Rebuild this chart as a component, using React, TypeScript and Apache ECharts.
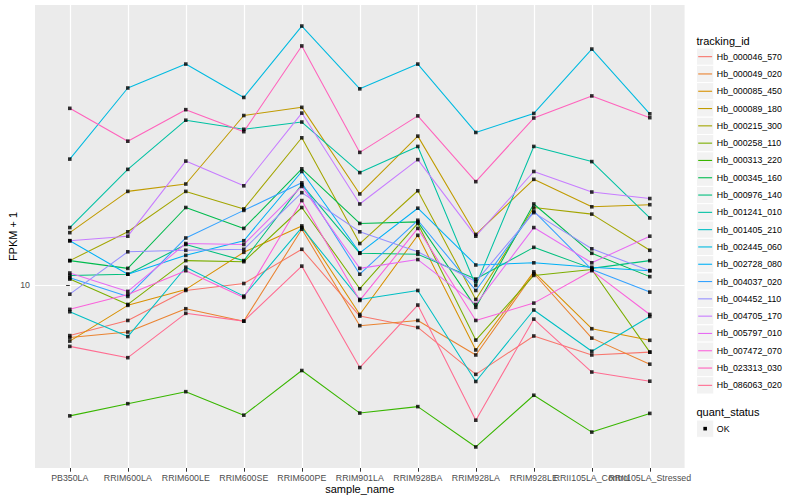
import React, { useEffect, useRef } from 'react';
import * as echarts from 'echarts';

const sampleNames = ['PB350LA', 'RRIM600LA', 'RRIM600LE', 'RRIM600SE', 'RRIM600PE', 'RRIM901LA', 'RRIM928BA', 'RRIM928LA', 'RRIM928LE', 'RRII105LA_Control', 'RRII105LA_Stressed'];

const trackingIds = ['Hb_000046_570', 'Hb_000049_020', 'Hb_000085_450', 'Hb_000089_180', 'Hb_000215_300', 'Hb_000258_110', 'Hb_000313_220', 'Hb_000345_160', 'Hb_000976_140', 'Hb_001241_010', 'Hb_001405_210', 'Hb_002445_060', 'Hb_002728_080', 'Hb_004037_020', 'Hb_004452_110', 'Hb_004705_170', 'Hb_005797_010', 'Hb_007472_070', 'Hb_023313_030', 'Hb_086063_020'];

const lineColors = ['#F8766D', '#EA8331', '#D89000', '#C09B00', '#A3A500', '#7CAE00', '#39B600', '#00BB4E', '#00BF7D', '#00C1A3', '#00BFC4', '#00BAE0', '#00B0F6', '#35A2FF', '#9590FF', '#C77CFF', '#E76BF3', '#FA62DB', '#FF62BC', '#FF6C91'];

const yTickValues = [10];
const quantStatus = ['OK'];

// FPKM + 1 per sample (order of sampleNames)
const hb_000046_570 = [6.8, 7.64, 9.62, 10.15, 13.2, 7.9, 7.24, 5.05, 6.78, 5.86, 5.99];
const hb_000049_020 = [6.7, 6.99, 8.36, 7.6, 15.4, 7.34, 7.64, 5.86, 10.96, 6.67, 5.46];
const hb_000085_450 = [6.52, 8.58, 9.7, 12.9, 15.8, 8.0, 14.7, 6.09, 11.1, 7.17, 6.56];
const hb_000089_180 = [15.0, 20.6, 21.8, 36.9, 39.3, 20.2, 31.5, 14.8, 22.6, 18.3, 18.6];
const hb_000215_300 = [12.1, 15.1, 20.6, 18.0, 31.1, 13.8, 20.7, 8.98, 18.2, 17.3, 13.1];
const hb_000258_110 = [10.5, 8.64, 12.1, 12.0, 18.2, 9.75, 16.1, 6.57, 10.8, 11.3, 5.99];
const hb_000313_220 = [3.67, 4.03, 4.42, 3.69, 5.2, 3.75, 3.94, 2.89, 4.3, 3.24, 3.74];
const hb_000345_160 = [12.1, 11.4, 18.2, 15.5, 24.5, 16.1, 16.3, 8.45, 18.7, 12.8, 10.7];
const hb_000976_140 = [10.8, 10.9, 13.7, 12.1, 21.7, 12.8, 12.7, 10.5, 13.4, 11.4, 12.1];
const hb_001241_010 = [15.6, 24.4, 35.6, 33.2, 35.1, 23.8, 29.1, 10.0, 29.1, 25.9, 16.8];
const hb_001405_210 = [8.17, 6.75, 11.5, 9.21, 15.6, 8.98, 9.62, 4.78, 8.28, 6.03, 7.88];
const hb_002445_060 = [26.4, 45.6, 54.8, 42.4, 73.4, 45.3, 54.8, 32.4, 37.5, 61.5, 37.4];
const hb_002728_080 = [14.1, 10.9, 12.6, 14.1, 24.0, 12.85, 18.1, 11.7, 11.9, 11.5, 11.2];
const hb_004037_020 = [10.6, 9.19, 14.4, 17.8, 22.0, 10.9, 16.5, 9.62, 17.7, 11.3, 9.5];
const hb_004452_110 = [9.35, 12.95, 13.1, 13.2, 20.4, 15.1, 12.95, 10.3, 17.5, 13.25, 11.2];
const hb_004705_170 = [14.1, 14.6, 26.0, 21.5, 37.6, 18.7, 26.3, 14.6, 24.0, 20.5, 19.5];
const hb_005797_010 = [11.0, 9.55, 13.8, 13.7, 21.4, 11.4, 12.2, 8.64, 15.6, 11.9, 14.6];
const hb_007472_070 = [8.32, 9.33, 11.2, 9.12, 19.2, 8.91, 15.5, 7.64, 8.73, 11.2, 8.0];
const hb_023313_030 = [39.0, 30.3, 38.6, 32.6, 63.0, 27.8, 36.8, 22.2, 36.2, 42.9, 36.3];
const hb_086063_020 = [6.26, 5.74, 8.07, 7.6, 11.6, 5.32, 8.6, 3.55, 7.72, 5.14, 4.79];

const seriesValues = [
  hb_000046_570, hb_000049_020, hb_000085_450, hb_000089_180, hb_000215_300,
  hb_000258_110, hb_000313_220, hb_000345_160, hb_000976_140, hb_001241_010,
  hb_001405_210, hb_002445_060, hb_002728_080, hb_004037_020, hb_004452_110,
  hb_004705_170, hb_005797_010, hb_007472_070, hb_023313_030, hb_086063_020,
];

const FONT = '"Liberation Sans", Arial, Helvetica, sans-serif';

function buildOption() {
  const all = seriesValues.flat();
  const lo = Math.log10(Math.min(...all));
  const hi = Math.log10(Math.max(...all));
  const pad = (hi - lo) * 0.05;
  const yMin = Math.pow(10, lo - pad);
  const yMax = Math.pow(10, hi + pad);
  const xIdx = sampleNames.map((_, i) => i);
  const xMin = -0.6;
  const xMax = sampleNames.length - 1 + 0.6;
  // an empty label sits on the axis end so that every sample name is kept
  const xLabelValues = [...xIdx, xMax];

  const lineSeries = trackingIds.map((id, k) => ({
    type: 'line',
    name: id,
    data: seriesValues[k].map((v, i) => [i, v]),
    showSymbol: false,
    symbol: 'none',
    silent: true,
    z: 2,
    lineStyle: { color: lineColors[k], width: 1.05 },
    itemStyle: { color: lineColors[k] },
  }));

  const points: number[][] = [];
  seriesValues.forEach((vals) => vals.forEach((v, i) => points.push([i, v])));

  // legend drawn as graphic (ggplot style)
  const gx = 696.5;
  const keySize = 17.3;
  const keyTop = 48;
  const graphics: any[] = [];
  graphics.push({
    type: 'text', x: gx, y: 41,
    style: { text: 'tracking_id', fill: '#000', fontSize: 11, fontFamily: FONT, textVerticalAlign: 'middle', verticalAlign: 'middle' },
  });
  trackingIds.forEach((id, i) => {
    const y = keyTop + i * keySize;
    graphics.push({
      type: 'rect', shape: { x: gx, y, width: keySize, height: keySize },
      style: { fill: '#F2F2F2', stroke: '#FFFFFF', lineWidth: 1 },
    });
    graphics.push({
      type: 'line', shape: { x1: gx + 1.7, y1: y + keySize / 2, x2: gx + keySize - 1.7, y2: y + keySize / 2 },
      style: { stroke: lineColors[i], lineWidth: 1.1 },
    });
    graphics.push({
      type: 'text', x: gx + keySize + 3, y: y + keySize / 2,
      style: { text: id, fill: '#000', fontSize: 8.8, fontFamily: FONT, textVerticalAlign: 'middle', verticalAlign: 'middle' },
    });
  });
  const qTitleY = keyTop + trackingIds.length * keySize + 18;
  graphics.push({
    type: 'text', x: gx, y: qTitleY,
    style: { text: 'quant_status', fill: '#000', fontSize: 11, fontFamily: FONT, textVerticalAlign: 'middle', verticalAlign: 'middle' },
  });
  quantStatus.forEach((q, i) => {
    const y = qTitleY + 8 + i * keySize;
    graphics.push({
      type: 'rect', shape: { x: gx, y, width: keySize, height: keySize },
      style: { fill: '#F2F2F2', stroke: '#FFFFFF', lineWidth: 1 },
    });
    graphics.push({
      type: 'rect', shape: { x: gx + keySize / 2 - 1.8, y: y + keySize / 2 - 1.8, width: 3.6, height: 3.6 },
      style: { fill: '#000' },
    });
    graphics.push({
      type: 'text', x: gx + keySize + 3, y: y + keySize / 2,
      style: { text: q, fill: '#000', fontSize: 8.8, fontFamily: FONT, textVerticalAlign: 'middle', verticalAlign: 'middle' },
    });
  });

  return {
    animation: false,
    backgroundColor: '#FFFFFF',
    textStyle: { fontFamily: FONT },
    grid: {
      left: 35, right: 115.4, top: 5, bottom: 32,
      show: true, backgroundColor: '#EBEBEB', borderWidth: 0,
      containLabel: false,
      outerBoundsMode: 'none',
    },
    xAxis: {
      type: 'value',
      min: xMin,
      max: xMax,
      axisLine: { show: false },
      axisTick: { show: true, customValues: xIdx, length: 3.7, lineStyle: { color: '#333333', width: 1 } },
      axisLabel: {
        show: true, customValues: xLabelValues,
        formatter: (v: number) => (Number.isInteger(v) ? sampleNames[v] ?? '' : ''),
        color: '#4D4D4D', fontSize: 8.8, margin: 5.5,
        hideOverlap: false, showMaxLabel: false,
      },
      splitLine: { show: true, lineStyle: { color: '#FFFFFF', width: 1.2 } },
      minorSplitLine: { show: false },
      name: 'sample_name',
      nameLocation: 'middle',
      nameGap: 15,
      nameMoveOverlap: false,
      nameTextStyle: { color: '#000000', fontSize: 11 },
    },
    yAxis: {
      type: 'log',
      logBase: 10,
      min: yMin,
      max: yMax,
      axisLine: { show: false },
      axisTick: { show: true, customValues: yTickValues, length: 3.7, lineStyle: { color: '#333333', width: 1 } },
      axisLabel: {
        show: true, customValues: yTickValues,
        formatter: (v: number) => String(Math.round(v)),
        color: '#4D4D4D', fontSize: 8.8, margin: 5,
        hideOverlap: false,
      },
      splitLine: { show: true, lineStyle: { color: '#FFFFFF', width: 1.2 } },
      minorSplitLine: { show: false },
      name: 'FPKM + 1',
      nameLocation: 'middle',
      nameGap: 17,
      nameMoveOverlap: false,
      nameTextStyle: { color: '#000000', fontSize: 11 },
    },
    graphic: graphics,
    series: [
      ...lineSeries,
      {
        type: 'scatter',
        name: 'OK',
        data: points,
        symbol: 'rect',
        symbolSize: 3.6,
        silent: true,
        z: 3,
        itemStyle: { color: '#000000' },
      },
    ],
  };
}

export default function App() {
  const ref = useRef<HTMLDivElement>(null);
  useEffect(() => {
    if (!ref.current) return;
    const chart = echarts.init(ref.current, undefined, { renderer: 'svg' });
    chart.setOption(buildOption() as any);
    return () => chart.dispose();
  }, []);
  return <div ref={ref} style={{ position: 'fixed', left: 0, top: 0, width: 800, height: 500 }} />;
}
